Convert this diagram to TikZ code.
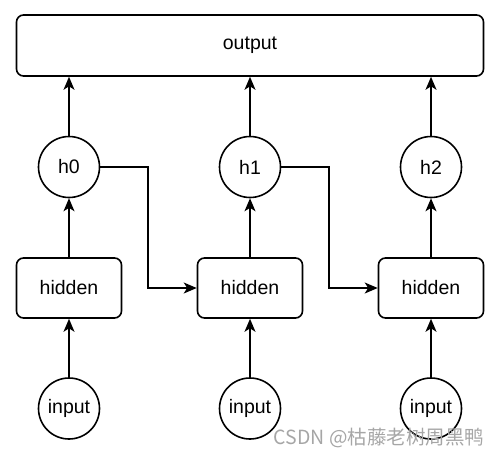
\documentclass[tikz,border=0pt]{standalone}
\usepackage{fontspec}
\setmainfont{Liberation Sans}
\newfontfamily\cjk{Noto Sans CJK SC}
\usetikzlibrary{arrows.meta}
\begin{document}
\begin{tikzpicture}[x=1pt,y=-1pt, line width=1.6pt,
  every node/.style={font=\fontsize{19.5}{22}\selectfont},
  hbox/.style={draw, rounded corners=7pt, minimum width=105pt, minimum height=60pt, inner sep=0pt},
  circ/.style={draw, circle, minimum size=61pt, inner sep=0pt},
  arr/.style={-{Stealth[length=13pt,width=11pt,inset=3.5pt]}}]
\useasboundingbox (0,0) rectangle (500,455);
\node[hbox, minimum width=467pt, minimum height=61pt] (out) at (250,45.5) {output};
\foreach \i/\x in {0/69,1/250,2/431}{
  \node[circ] (h\i) at (\x,167) {h\i};
  \node[hbox] (hid\i) at (\x,288) {hidden};
  \node[circ] (in\i) at (\x,408.5) {input};
  \draw[arr] (h\i) -- (h\i |- out.south);
  \draw[arr] (hid\i) -- (h\i);
  \draw[arr] (in\i) -- (hid\i);
}
\coordinate (k0) at (148,167);
\coordinate (k1) at (329,167);
\draw[arr] (h0.east) -- (k0) |- (hid1.west);
\draw[arr] (h1.east) -- (k1) |- (hid2.west);
\node[anchor=base west, text=black!35, inner sep=0pt, font=\cjk\fontsize{19.5}{22}\selectfont] (wm) at (273,444) {CSDN @枯藤老树周黑鸭};
\end{tikzpicture}
\end{document}
